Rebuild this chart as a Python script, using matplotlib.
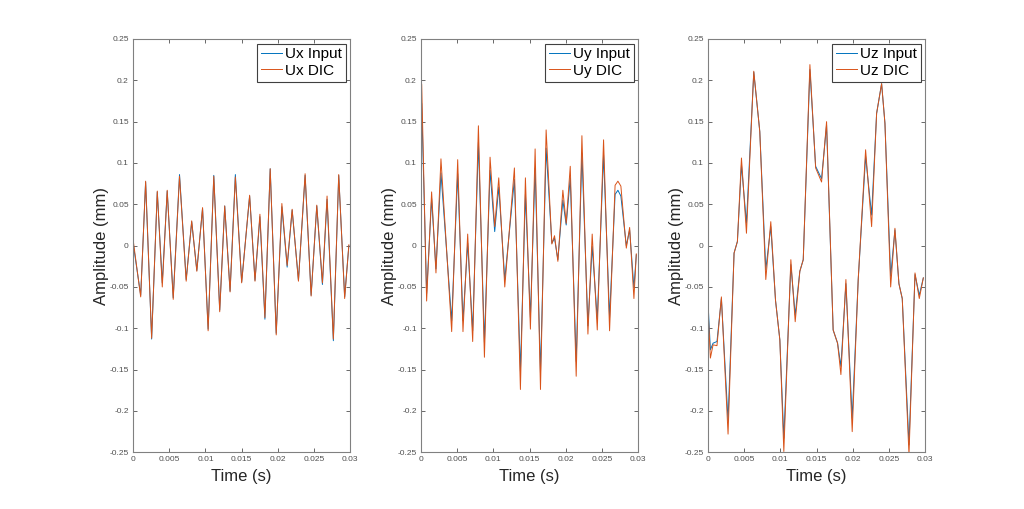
import numpy as np
import matplotlib.pyplot as plt
from matplotlib.ticker import FuncFormatter

# Ux: peaks and troughs (input and DIC almost identical)
ux_time = [0.0, 0.00106, 0.00174, 0.00257, 0.00335, 0.00404, 0.00472, 0.00555,
           0.00642, 0.00734, 0.0081, 0.00881, 0.0096, 0.01037, 0.01115, 0.01197,
           0.01266, 0.0134, 0.01413, 0.015, 0.0161, 0.01684, 0.01752, 0.01821,
           0.01894, 0.01977, 0.02055, 0.02128, 0.02197, 0.02284, 0.02376, 0.02459,
           0.02537, 0.02615, 0.02679, 0.02766, 0.0284, 0.02922, 0.0298]
ux_input = [0.004, -0.060, 0.077, -0.113, 0.065, -0.045, 0.066, -0.063,
            0.086, -0.041, 0.029, -0.030, 0.045, -0.101, 0.085, -0.078,
            0.048, -0.055, 0.086, -0.044, 0.060, -0.042, 0.035, -0.089,
            0.093, -0.106, 0.047, -0.026, 0.043, -0.042, 0.085, -0.060,
            0.048, -0.047, 0.056, -0.115, 0.085, -0.062, 0.0]
ux_dic = [0.008, -0.062, 0.078, -0.112, 0.066, -0.050, 0.067, -0.065,
          0.084, -0.043, 0.030, -0.031, 0.046, -0.103, 0.084, -0.080,
          0.048, -0.056, 0.083, -0.045, 0.061, -0.043, 0.038, -0.087,
          0.093, -0.108, 0.051, -0.024, 0.044, -0.043, 0.087, -0.061,
          0.049, -0.045, 0.060, -0.113, 0.086, -0.064, 0.001]

# Uy
uy_time = [0.0, 0.0001, 0.00078, 0.00147, 0.00207, 0.00276, 0.00424, 0.00507,
           0.0058, 0.00645, 0.00714, 0.00793, 0.00876, 0.00954, 0.01018, 0.01074,
           0.01157, 0.0129, 0.01373, 0.01442, 0.01511, 0.01576, 0.0165, 0.01728,
           0.01807, 0.01844, 0.0189, 0.01959, 0.02005, 0.02061, 0.02143, 0.02222,
           0.02305, 0.02364, 0.02434, 0.02521, 0.02604, 0.0268, 0.02719, 0.0276,
           0.02835, 0.02881, 0.0294, 0.02973]
uy_input = [0.128, 0.172, -0.058, 0.057, -0.028, 0.088, -0.091, 0.087,
            -0.091, 0.003, -0.103, 0.125, -0.117, 0.091, 0.017, 0.071,
            -0.041, 0.080, -0.152, 0.062, -0.087, 0.094, -0.154, 0.118,
            0.003, 0.009, -0.017, 0.055, 0.025, 0.082, -0.140, 0.112,
            -0.097, -0.001, -0.089, 0.110, -0.087, 0.062, 0.067, 0.060,
            0.0, 0.019, -0.051, -0.011]
uy_dic = [0.200, 0.195, -0.067, 0.065, -0.033, 0.105, -0.104, 0.104,
          -0.104, 0.014, -0.116, 0.145, -0.135, 0.107, 0.023, 0.082,
          -0.050, 0.094, -0.174, 0.082, -0.101, 0.117, -0.174, 0.140,
          0.002, 0.012, -0.019, 0.067, 0.027, 0.096, -0.158, 0.133,
          -0.107, 0.014, -0.102, 0.128, -0.103, 0.073, 0.078, 0.072,
          -0.003, 0.022, -0.064, -0.010]

# Uz
uz_time = [0.0, 0.00033, 0.0007, 0.00124, 0.00185, 0.00277, 0.0036, 0.00406,
           0.00462, 0.00531, 0.00632, 0.00715, 0.00798, 0.00867, 0.00932, 0.00992,
           0.01047, 0.01144, 0.01204, 0.01268, 0.01315, 0.01407, 0.01486, 0.01568,
           0.01637, 0.01728, 0.01789, 0.01835, 0.01904, 0.01991, 0.02074, 0.02176,
           0.02259, 0.02328, 0.02397, 0.02443, 0.02522, 0.02581, 0.02636, 0.02682,
           0.02775, 0.02858, 0.02917, 0.02973]
uz_input = [-0.068, -0.126, -0.118, -0.116, -0.064, -0.212, -0.009, 0.005,
            0.098, 0.027, 0.210, 0.138, -0.029, 0.023, -0.066, -0.114,
            -0.233, -0.023, -0.084, -0.031, -0.017, 0.213, 0.096, 0.081,
            0.146, -0.102, -0.118, -0.146, -0.046, -0.209, -0.041, 0.108,
            0.037, 0.160, 0.196, 0.148, -0.037, 0.019, -0.046, -0.064,
            -0.241, -0.035, -0.060, -0.039]
uz_dic = [-0.076, -0.136, -0.120, -0.121, -0.062, -0.228, -0.009, 0.005,
          0.106, 0.015, 0.211, 0.138, -0.041, 0.029, -0.066, -0.114,
          -0.249, -0.017, -0.092, -0.031, -0.017, 0.219, 0.094, 0.077,
          0.150, -0.102, -0.118, -0.156, -0.041, -0.225, -0.041, 0.116,
          0.023, 0.160, 0.196, 0.148, -0.050, 0.021, -0.046, -0.064,
          -0.253, -0.033, -0.064, -0.039]

panels = [
    (ux_time, ux_input, ux_dic, "Ux"),
    (uy_time, uy_input, uy_dic, "Uy"),
    (uz_time, uz_input, uz_dic, "Uz"),
]

x_ticks = [0, 0.005, 0.01, 0.015, 0.02, 0.025, 0.03]
y_ticks = [-0.25, -0.2, -0.15, -0.1, -0.05, 0, 0.05, 0.1, 0.15, 0.2, 0.25]

plt.rcParams["font.family"] = ["Liberation Sans", "DejaVu Sans"]

blue = "#0072BD"
orange = "#D95319"
axis_grey = "#262626"

fig = plt.figure(figsize=(10.24, 5.09), dpi=100)
lefts = [0.1299, 0.4111, 0.6914]

for left, (t, inp, dic, name) in zip(lefts, panels):
    ax = fig.add_axes([left, 0.1114, 0.2122, 0.812])
    ax.plot(t, inp, color=blue, lw=0.7, label=name + " Input")
    ax.plot(t, dic, color=orange, lw=0.7, label=name + " DIC")
    ax.set_xlim(0, 0.03)
    ax.set_ylim(-0.25, 0.25)
    ax.set_xticks(x_ticks)
    ax.set_yticks(y_ticks)
    fmt = FuncFormatter(lambda v, p: "%g" % round(v, 4))
    ax.xaxis.set_major_formatter(fmt)
    ax.yaxis.set_major_formatter(fmt)
    ax.tick_params(direction="in", top=True, right=True, length=3, width=0.6,
                   labelsize=6, colors="#505050", pad=3)
    for s in ax.spines.values():
        s.set_color("#808080")
        s.set_linewidth(0.8)
    ax.set_xlabel("Time (s)", fontsize=12, color=axis_grey, labelpad=4)
    ax.set_ylabel("Amplitude (mm)", fontsize=12, color=axis_grey, labelpad=0)
    leg = ax.legend(loc="upper right", fontsize=11, fancybox=False,
                    borderaxespad=0.3, handlelength=1.4, handletextpad=0.2,
                    borderpad=0.25, labelspacing=0.15, framealpha=1)
    leg.get_frame().set_edgecolor("#404040")
    leg.get_frame().set_linewidth(0.8)

plt.savefig("out.png", dpi=100)
